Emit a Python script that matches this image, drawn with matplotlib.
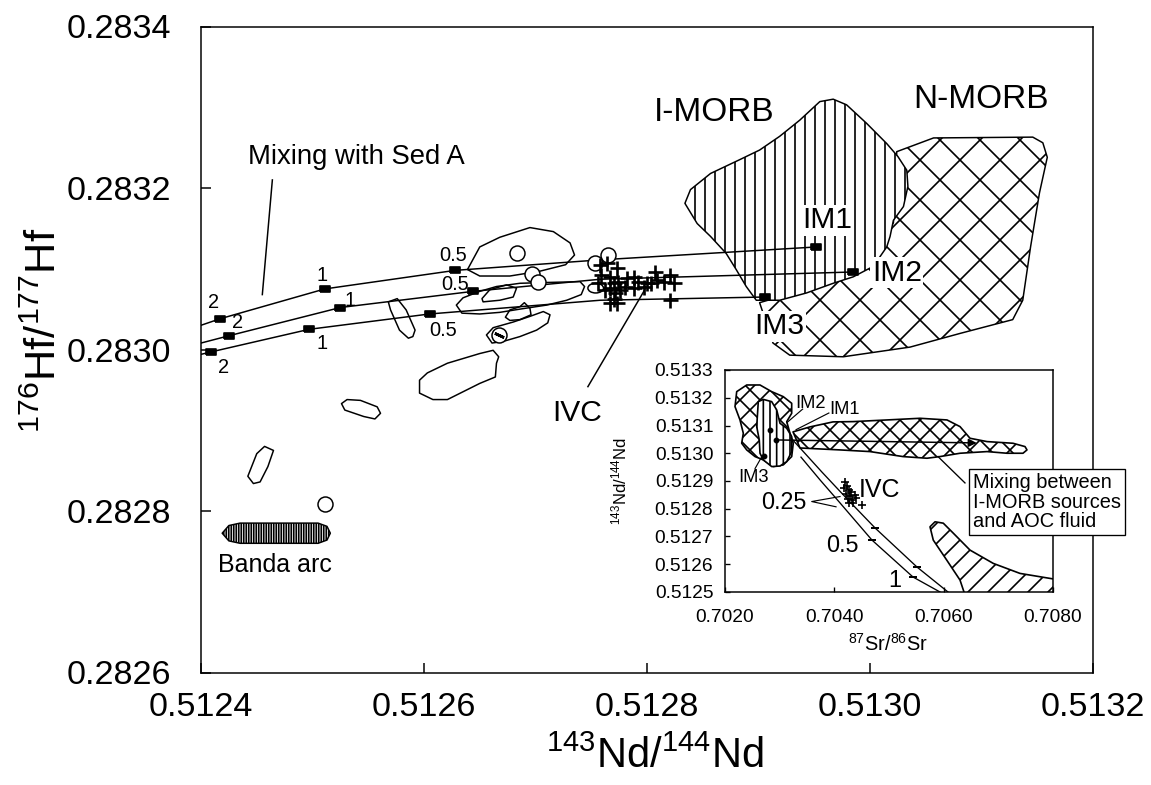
import numpy as np
import matplotlib
matplotlib.use('Agg')
import matplotlib.pyplot as plt
from matplotlib.patches import Polygon, Ellipse
from matplotlib.ticker import FormatStrFormatter

plt.rcParams['font.family'] = ['Liberation Sans', 'DejaVu Sans']
plt.rcParams['mathtext.fontset'] = 'custom'
plt.rcParams['mathtext.rm'] = 'Liberation Sans'
plt.rcParams['mathtext.it'] = 'Liberation Sans:italic'
plt.rcParams['mathtext.bf'] = 'Liberation Sans:bold'
plt.rcParams['hatch.linewidth'] = 1.0

# ------------------------------------------------------------------ data
# main panel: 143Nd/144Nd (x) vs 176Hf/177Hf (y)
mix1_nd = [0.512400, 0.512417, 0.512511, 0.512628, 0.512758, 0.512952]
mix1_hf = [0.283030, 0.283038, 0.283075, 0.283098, 0.283111, 0.283127]
mix2_nd = [0.512400, 0.512425, 0.512525, 0.512644, 0.512758, 0.512985]
mix2_hf = [0.283008, 0.283017, 0.283052, 0.283072, 0.283087, 0.283096]
mix3_nd = [0.512400, 0.512409, 0.512497, 0.512605, 0.512758, 0.512906]
mix3_hf = [0.282994, 0.282997, 0.283025, 0.283044, 0.283061, 0.283065]
mix_mark_idx = [1, 2, 3, 5]

ivc_nd = [0.512758, 0.512764, 0.512773, 0.512759, 0.512767, 0.512774, 0.512782,
          0.512788, 0.512792, 0.512800, 0.512807, 0.512809, 0.512821, 0.512824,
          0.512821, 0.512770, 0.512767, 0.512771, 0.512776, 0.512780, 0.512767,
          0.512773, 0.512762, 0.512756, 0.512788, 0.512797, 0.512804, 0.512815,
          0.512770]
ivc_hf = [0.283105, 0.283107, 0.283101, 0.283092, 0.283090, 0.283084, 0.283088,
          0.283090, 0.283084, 0.283082, 0.283096, 0.283086, 0.283092, 0.283082,
          0.283061, 0.283082, 0.283076, 0.283070, 0.283074, 0.283078, 0.283057,
          0.283057, 0.283074, 0.283082, 0.283076, 0.283078, 0.283082, 0.283084,
          0.283063]

circ_nd = [0.512683, 0.512697, 0.512702, 0.512765, 0.512753, 0.512511]
circ_hf = [0.283120, 0.283094, 0.283084, 0.283117, 0.283107, 0.282809]
circ_bar_nd = [0.512667]
circ_bar_hf = [0.283018]

imorb_nd = [0.512834, 0.512839, 0.512857, 0.512883, 0.512901, 0.512919, 0.512937,
            0.512955, 0.512967, 0.512979, 0.512997, 0.513015, 0.513025, 0.513033,
            0.513034, 0.513030, 0.513021, 0.513018, 0.513015, 0.513003, 0.512985,
            0.512967, 0.512943, 0.512919, 0.512898, 0.512889, 0.512880, 0.512871,
            0.512857, 0.512845]
imorb_hf = [0.283181, 0.283198, 0.283218, 0.283235, 0.283247, 0.283264, 0.283284,
            0.283307, 0.283310, 0.283303, 0.283280, 0.283255, 0.283239, 0.283222,
            0.283202, 0.283177, 0.283160, 0.283140, 0.283127, 0.283103, 0.283090,
            0.283082, 0.283070, 0.283061, 0.283061, 0.283078, 0.283099, 0.283119,
            0.283140, 0.283156]

nmorb_nd = [0.512901, 0.512913, 0.512928, 0.512976, 0.513036, 0.513081, 0.513128,
            0.513137, 0.513144, 0.513152, 0.513159, 0.513155, 0.513146, 0.513057,
            0.513024, 0.513021, 0.513000, 0.512961, 0.512931]
nmorb_hf = [0.283058, 0.283008, 0.282993, 0.282991, 0.283003, 0.283020, 0.283037,
            0.283061, 0.283127, 0.283194, 0.283238, 0.283256, 0.283263, 0.283262,
            0.283245, 0.283157, 0.283111, 0.283082, 0.283070]

fa_nd = [0.512639, 0.512650, 0.512668, 0.512695, 0.512716, 0.512731, 0.512735,
         0.512727, 0.512704, 0.512677, 0.512650]
fa_hf = [0.283099, 0.283127, 0.283139, 0.283151, 0.283146, 0.283132, 0.283117,
         0.283105, 0.283097, 0.283091, 0.283091]
fb_nd = [0.512629, 0.512635, 0.512650, 0.512665, 0.512686, 0.512710, 0.512740,
         0.512744, 0.512741, 0.512728, 0.512710, 0.512686, 0.512668, 0.512650,
         0.512634]
fb_hf = [0.283055, 0.283064, 0.283072, 0.283078, 0.283082, 0.283083, 0.283084,
         0.283078, 0.283068, 0.283061, 0.283055, 0.283050, 0.283046, 0.283044,
         0.283045]
fb2_nd = [0.512652, 0.512659, 0.512674, 0.512683, 0.512680, 0.512668, 0.512653]
fb2_hf = [0.283063, 0.283074, 0.283080, 0.283076, 0.283065, 0.283061, 0.283059]
fc_nd = [0.512673, 0.512677, 0.512686, 0.512690, 0.512695, 0.512696, 0.512686, 0.512677]
fc_hf = [0.283040, 0.283049, 0.283053, 0.283058, 0.283051, 0.283043, 0.283037, 0.283036]
fc2_nd = [0.512656, 0.512662, 0.512680, 0.512695, 0.512707, 0.512713, 0.512711,
          0.512701, 0.512686, 0.512671, 0.512661]
fc2_hf = [0.283018, 0.283027, 0.283034, 0.283041, 0.283047, 0.283043, 0.283033,
          0.283024, 0.283016, 0.283010, 0.283008]
fd_nd = [0.512596, 0.512603, 0.512621, 0.512650, 0.512662, 0.512667, 0.512665,
         0.512664, 0.512650, 0.512621, 0.512608, 0.512596]
fd_hf = [0.282962, 0.282971, 0.282983, 0.282995, 0.282999, 0.282991, 0.282983,
         0.282966, 0.282958, 0.282938, 0.282938, 0.282946]
fe_nd = [0.512568, 0.512576, 0.512584, 0.512592, 0.512590, 0.512586, 0.512578, 0.512570]
fe_hf = [0.283059, 0.283063, 0.283049, 0.283024, 0.283016, 0.283014, 0.283024, 0.283049]
ff_nd = [0.512526, 0.512531, 0.512543, 0.512558, 0.512561, 0.512556, 0.512546, 0.512529]
ff_hf = [0.282933, 0.282938, 0.282937, 0.282929, 0.282921, 0.282914, 0.282917, 0.282925]
fg_nd = [0.512442, 0.512450, 0.512457, 0.512465, 0.512460, 0.512453, 0.512447]
fg_hf = [0.282843, 0.282871, 0.282880, 0.282875, 0.282855, 0.282836, 0.282834]
banda_nd = [0.512419, 0.512425, 0.512435, 0.512505, 0.512513, 0.512516,
            0.512513, 0.512505, 0.512435, 0.512425]
banda_hf = [0.2827725, 0.282782, 0.282785, 0.282785, 0.282781, 0.2827725,
            0.282764, 0.282760, 0.282760, 0.282763]

x_ticks = [0.5124, 0.5126, 0.5128, 0.5130, 0.5132]
y_ticks = [0.2826, 0.2828, 0.2830, 0.2832, 0.2834]

# inset: 87Sr/86Sr (x) vs 143Nd/144Nd (y)
in_nmorb_sr = [0.702214, 0.702397, 0.702640, 0.702854, 0.703066, 0.703220, 0.703220,
               0.703129, 0.703189, 0.703249, 0.703220, 0.703066, 0.702884, 0.702701,
               0.702549, 0.702397, 0.702305, 0.702335, 0.702274, 0.702183]
in_nmorb_nd = [0.513222, 0.513246, 0.513246, 0.513222, 0.513204, 0.513180, 0.513144,
               0.513114, 0.513072, 0.513036, 0.512988, 0.512958, 0.512952, 0.512976,
               0.512988, 0.513012, 0.513036, 0.513072, 0.513120, 0.513168]
in_imorb_sr = [0.702609, 0.702701, 0.702854, 0.702946, 0.703006, 0.703129, 0.703220,
               0.703220, 0.703129, 0.703006, 0.702854, 0.702701, 0.702640, 0.702627,
               0.702580]
in_imorb_nd = [0.513186, 0.513194, 0.513186, 0.513156, 0.513108, 0.513090, 0.513060,
               0.513006, 0.512970, 0.512954, 0.512952, 0.512976, 0.513000, 0.513048,
               0.513096]
in_band_sr = [0.703244, 0.703555, 0.703976, 0.704342, 0.704963, 0.705567, 0.706061,
              0.706299, 0.706482, 0.706793, 0.707268, 0.707488, 0.707524, 0.707451,
              0.707159, 0.706793, 0.706299, 0.705933, 0.705695, 0.705256, 0.704652,
              0.704104, 0.703372]
in_band_nd = [0.513077, 0.513095, 0.513113, 0.513114, 0.513120, 0.513126, 0.513120,
              0.513096, 0.513054, 0.513042, 0.513036, 0.513024, 0.513012, 0.513000,
              0.513000, 0.513006, 0.513000, 0.512988, 0.512982, 0.512988, 0.513006,
              0.513012, 0.513019]
in_sed_sr = [0.705750, 0.705842, 0.705993, 0.706176, 0.706482, 0.706908, 0.707396,
             0.708128, 0.708128, 0.706421, 0.706299, 0.706056, 0.705810]
in_sed_nd = [0.512735, 0.512753, 0.512748, 0.512712, 0.512651, 0.512603, 0.512567,
             0.512543, 0.512471, 0.512471, 0.512543, 0.512615, 0.512687]
in_mixB_sr = [0.703207, 0.703774, 0.704250, 0.704744, 0.705512, 0.706079]
in_mixB_nd = [0.513055, 0.512932, 0.512832, 0.512731, 0.512590, 0.512500]
in_mixC_sr = [0.703390, 0.703738, 0.704104, 0.704689, 0.705439, 0.705933]
in_mixC_nd = [0.512986, 0.512904, 0.512821, 0.512687, 0.512554, 0.512500]
in_im_sr = [0.702823, 0.702933, 0.702713]
in_im_nd = [0.513084, 0.513048, 0.512990]
in_ivc_sr = [0.704195, 0.704232, 0.704268, 0.704213, 0.704287, 0.704323, 0.704250,
             0.704342, 0.704396, 0.704506, 0.704177, 0.704305, 0.704378, 0.704268]
in_ivc_nd = [0.512896, 0.512882, 0.512868, 0.512853, 0.512846, 0.512832, 0.512835,
             0.512821, 0.512839, 0.512814, 0.512875, 0.512860, 0.512850, 0.512821]
in_x_ticks = [0.7020, 0.7040, 0.7060, 0.7080]
in_y_ticks = [0.5125, 0.5126, 0.5127, 0.5128, 0.5129, 0.5130, 0.5131, 0.5132, 0.5133]

# ------------------------------------------------------------------ figure
DPI = 120
W, H = 1151, 785
fig = plt.figure(figsize=(W / DPI, H / DPI), dpi=DPI)
fig.patch.set_facecolor('white')
ax = fig.add_axes([201 / W, 1 - 672.5 / H, 892 / W, 646 / H])
ax.set_xlim(0.5124, 0.5132)
ax.set_ylim(0.2826, 0.2834)


def poly(a, xs, ys, hatch=None, fc='none', z=2, lw=0.9):
    p = Polygon(np.column_stack([xs, ys]), closed=True, facecolor=fc,
                edgecolor='black', hatch=hatch, lw=lw, zorder=z, joinstyle='round')
    a.add_patch(p)
    return p


# fields
poly(ax, nmorb_nd, nmorb_hf, hatch='x', fc='white', z=1)
poly(ax, imorb_nd, imorb_hf, hatch='||', fc='white', z=1.5)
for xs, ys in [(fa_nd, fa_hf), (fb_nd, fb_hf), (fb2_nd, fb2_hf), (fc_nd, fc_hf),
               (fc2_nd, fc2_hf), (fd_nd, fd_hf), (fe_nd, fe_hf), (ff_nd, ff_hf),
               (fg_nd, fg_hf)]:
    poly(ax, xs, ys, z=2, lw=0.9)
ax.add_patch(Ellipse((0.512754, 0.283076), 1.4e-5, 1.2e-5, fc='none', ec='black',
                     lw=0.9, zorder=2))
poly(ax, banda_nd, banda_hf, hatch='||||||||', fc='white', z=2, lw=0.9)

# mixing curves
rect_marker = [(-1, -0.5), (1, -0.5), (1, 0.5), (-1, 0.5), (-1, -0.5)]
for xs, ys in [(mix1_nd, mix1_hf), (mix2_nd, mix2_hf), (mix3_nd, mix3_hf)]:
    ax.plot(xs, ys, color='black', lw=0.9, zorder=3)
    ax.plot([xs[i] for i in mix_mark_idx], [ys[i] for i in mix_mark_idx],
            ls='none', marker=rect_marker, ms=6.5, color='black', zorder=4)

frac_labels = [('2', 0.512411, 0.283058), ('2', 0.512433, 0.283033),
               ('2', 0.512420, 0.282978), ('1', 0.512509, 0.283092),
               ('1', 0.512534, 0.283061), ('1', 0.512509, 0.283008),
               ('0.5', 0.512626, 0.283116), ('0.5', 0.512628, 0.283080),
               ('0.5', 0.512617, 0.283024)]
for t, x, y in frac_labels:
    ax.text(x, y, t, fontsize=12, ha='center', va='center', zorder=6)

# symbols
ax.plot(circ_nd, circ_hf, ls='none', marker='o', ms=9, mfc='white', mec='black',
        mew=0.9, zorder=5)
ax.plot(circ_bar_nd, circ_bar_hf, ls='none', marker='o', ms=9, mfc='white',
        mec='black', mew=0.9, zorder=5)
ax.plot(circ_bar_nd, circ_bar_hf, ls='none', marker=(2, 2, 65), ms=6,
        mec='black', mew=1.6, zorder=5.5)
ax.plot(ivc_nd, ivc_hf, ls='none', marker='+', ms=9, mew=1.6, color='black', zorder=5)

# annotations
white_box = dict(boxstyle='square,pad=0.05', fc='white', ec='none')
ax.text(0.512442, 0.283238, 'Mixing with Sed A', fontsize=16.5, ha='left', va='center')
ax.plot([0.512464, 0.512455], [0.283210, 0.283068], color='black', lw=0.9)
ax.text(0.512860, 0.283294, 'I-MORB', fontsize=20, ha='center', va='center')
ax.text(0.513100, 0.283309, 'N-MORB', fontsize=20, ha='center', va='center')
ax.text(0.512962, 0.283160, 'IM1', fontsize=18, ha='center', va='center', zorder=6,
        bbox=white_box)
ax.text(0.513024, 0.283095, 'IM2', fontsize=18, ha='center', va='center', zorder=6,
        bbox=white_box)
ax.text(0.512919, 0.283029, 'IM3', fontsize=18, ha='center', va='center', zorder=6,
        bbox=white_box)
ax.text(0.512737, 0.282921, 'IVC', fontsize=18, ha='center', va='center')
ax.plot([0.512747, 0.512798], [0.282954, 0.283074], color='black', lw=0.9)
ax.text(0.512466, 0.282733, 'Banda arc', fontsize=15, ha='center', va='center')

ax.set_xticks(x_ticks)
ax.set_yticks(y_ticks)
ax.xaxis.set_major_formatter(FormatStrFormatter('%.4f'))
ax.yaxis.set_major_formatter(FormatStrFormatter('%.4f'))
ax.tick_params(axis='both', direction='in', length=6, width=0.9, labelsize=20.5)
ax.tick_params(axis='x', pad=12)
ax.tick_params(axis='y', pad=18)
for s in ax.spines.values():
    s.set_linewidth(0.9)
ax.set_xlabel(r'$^{143}$Nd/$^{144}$Nd', fontsize=25)
ax.set_ylabel(r'$^{176}$Hf/$^{177}$Hf', fontsize=26)
ax.xaxis.set_label_coords(0.509, -0.100)
ax.yaxis.set_label_coords(-0.152, 0.53)

# ------------------------------------------------------------------ inset
ai = fig.add_axes([725 / W, 1 - 592 / H, 328 / W, 222 / H])
ai.set_zorder(10)
ai.set_facecolor('white')
ai.set_xlim(0.7020, 0.7080)
ai.set_ylim(0.5125, 0.5133)

poly(ai, in_nmorb_sr, in_nmorb_nd, hatch='xx', fc='white', z=1, lw=1.0)
poly(ai, in_imorb_sr, in_imorb_nd, hatch='|||', fc='white', z=1.5, lw=1.0)
poly(ai, in_band_sr, in_band_nd, hatch='xx', fc='white', z=1.2, lw=1.0)
poly(ai, in_sed_sr, in_sed_nd, hatch='//', fc='white', z=1, lw=1.0)

ai.plot(in_mixB_sr, in_mixB_nd, color='black', lw=0.8, zorder=3)
ai.plot(in_mixC_sr, in_mixC_nd, color='black', lw=0.8, zorder=3)
ai.plot([in_mixB_sr[3], in_mixB_sr[4]], [in_mixB_nd[3], in_mixB_nd[4]], ls='none',
        marker='_', ms=5, mew=1.2, color='black', zorder=4)
ai.plot([in_mixC_sr[3], in_mixC_sr[4]], [in_mixC_nd[3], in_mixC_nd[4]], ls='none',
        marker='_', ms=5, mew=1.2, color='black', zorder=4)
ai.plot(in_im_sr, in_im_nd, ls='none', marker='o', ms=2.5, color='black', zorder=4)
ai.annotate('', xy=(0.706665, 0.513037), xytext=(in_im_sr[1], in_im_nd[1]),
            arrowprops=dict(arrowstyle='-|>', color='black', lw=0.9,
                            mutation_scale=10), zorder=4)
ai.plot(in_ivc_sr, in_ivc_nd, ls='none', marker='+', ms=4.5, mew=1.0,
        color='black', zorder=5)

ai.text(0.703555, 0.513181, 'IM2', fontsize=11, ha='center', va='center', zorder=6)
ai.text(0.704195, 0.513159, 'IM1', fontsize=11, ha='center', va='center', zorder=6)
ai.text(0.702530, 0.512914, 'IM3', fontsize=11, ha='center', va='center', zorder=6)
ai.plot([0.703420, 0.703130], [0.513159, 0.513110], color='black', lw=0.7, zorder=6)
ai.plot([0.703900, 0.703300], [0.513145, 0.513085], color='black', lw=0.7, zorder=6)
ai.plot([0.702550, 0.702680], [0.512945, 0.512990], color='black', lw=0.7, zorder=6)
ai.text(0.704835, 0.512868, 'IVC', fontsize=15, ha='center', va='center', zorder=6)
ai.text(0.703079, 0.512824, '0.25', fontsize=14, ha='center', va='center', zorder=6)
ai.plot([0.704104, 0.703586, 0.704031], [0.512844, 0.512826, 0.512807],
        color='black', lw=0.7, zorder=6)
ai.text(0.704140, 0.512669, '0.5', fontsize=14, ha='center', va='center', zorder=6)
ai.text(0.705110, 0.512543, '1', fontsize=14, ha='center', va='center', zorder=6)

ai.set_xticks(in_x_ticks)
ai.set_yticks(in_y_ticks)
ai.xaxis.set_major_formatter(FormatStrFormatter('%.4f'))
ai.yaxis.set_major_formatter(FormatStrFormatter('%.4f'))
ai.tick_params(axis='both', direction='in', length=3, width=0.8, labelsize=11.5)
ai.tick_params(axis='x', pad=10)
ai.tick_params(axis='y', pad=7)
for s in ai.spines.values():
    s.set_linewidth(0.9)
ai.set_xlabel(r'$^{87}$Sr/$^{86}$Sr', fontsize=12)
ai.set_ylabel(r'$^{143}$Nd/$^{144}$Nd', fontsize=10)
ai.xaxis.set_label_coords(0.497, -0.185)
ai.yaxis.set_label_coords(-0.29, 0.5)

# mixing-box annotation (extends beyond the inset)
ai.plot([0.706390, 0.705896], [0.512893, 0.512988], color='black', lw=0.8,
        zorder=6, clip_on=False)
fig.text(973 / W, 1 - 502 / H, 'Mixing between\nI-MORB sources\nand AOC fluid',
         fontsize=12, ha='left', va='center', linespacing=1.05, zorder=20,
         bbox=dict(boxstyle='square,pad=0.2', fc='white', ec='black', lw=0.8))

fig.savefig('out.png', dpi=DPI, facecolor='white')
